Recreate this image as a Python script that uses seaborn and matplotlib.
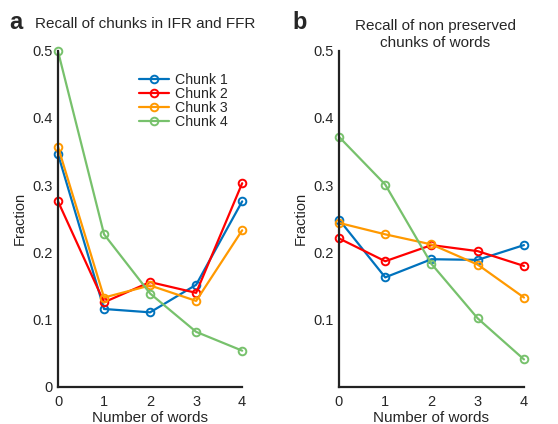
import numpy as np
import pandas as pd
import seaborn as sns
import matplotlib.pyplot as plt

words = [0, 1, 2, 3, 4]
chunks = ['Chunk 1', 'Chunk 2', 'Chunk 3', 'Chunk 4']
colors = ['#0072BD', '#FF0000', '#FF9900', '#77C16C']

# panel a: recall of chunks in IFR and FFR
a_chunk1 = [0.346, 0.116, 0.111, 0.152, 0.276]
a_chunk2 = [0.276, 0.126, 0.156, 0.140, 0.303]
a_chunk3 = [0.357, 0.133, 0.151, 0.128, 0.233]
a_chunk4 = [0.499, 0.227, 0.139, 0.082, 0.054]

# panel b: recall of non preserved chunks of words
b_chunk1 = [0.249, 0.163, 0.190, 0.189, 0.211]
b_chunk2 = [0.221, 0.187, 0.211, 0.202, 0.180]
b_chunk3 = [0.244, 0.227, 0.212, 0.182, 0.133]
b_chunk4 = [0.372, 0.301, 0.183, 0.102, 0.041]


def to_df(series):
    rows = []
    for name, vals in zip(chunks, series):
        for w, v in zip(words, vals):
            rows.append({'words': w, 'fraction': v, 'chunk': name})
    return pd.DataFrame(rows)


df_a = to_df([a_chunk1, a_chunk2, a_chunk3, a_chunk4])
df_b = to_df([b_chunk1, b_chunk2, b_chunk3, b_chunk4])

sns.set_style('white')
plt.rcParams['font.family'] = ['Liberation Sans', 'DejaVu Sans']
plt.rcParams['font.size'] = 9

fig = plt.figure(figsize=(5.58, 4.24), dpi=100)
ax_a = fig.add_axes([0.104, 0.0873, 0.330, 0.793])
ax_b = fig.add_axes([0.6075, 0.0873, 0.3315, 0.793])

palette = dict(zip(chunks, colors))
for ax, df in [(ax_a, df_a), (ax_b, df_b)]:
    sns.lineplot(data=df, x='words', y='fraction', hue='chunk', palette=palette,
                 marker='o', markersize=5.5, linewidth=1.6, ax=ax,
                 legend=(ax is ax_a))
    ax.set_xlim(0, 4)
    ax.set_ylim(0, 0.5)
    ax.set_xticks(words)
    ax.set_xlabel('Number of words', fontsize=11, labelpad=1)
    ax.set_ylabel('Fraction', fontsize=10.5, labelpad=4)
    for s in ['top', 'right']:
        ax.spines[s].set_visible(False)
    for s in ['left', 'bottom']:
        ax.spines[s].set_linewidth(1.6)
        ax.spines[s].set_color('#222222')
    ax.tick_params(direction='in', length=3, width=1.2, labelsize=10.5)
    ax.tick_params(axis='x', pad=6)
    ax.tick_params(axis='y', pad=4)
    for ln in ax.lines:
        ln.set_clip_on(False)
        ln.set_markerfacecolor('none')
        ln.set_markeredgecolor(ln.get_color())
        ln.set_markeredgewidth(1.4)

ax_a.set_yticks([0, 0.1, 0.2, 0.3, 0.4, 0.5])
ax_a.set_yticklabels(['0', '0.1', '0.2', '0.3', '0.4', '0.5'])
ax_b.set_yticks([0.1, 0.2, 0.3, 0.4, 0.5])
ax_b.set_yticklabels(['0.1', '0.2', '0.3', '0.4', '0.5'])

handles, labels = ax_a.get_legend_handles_labels()
for h in handles:
    h.set_markerfacecolor('none')
    h.set_markeredgecolor(h.get_color())
    h.set_markeredgewidth(1.4)
    h.set_linewidth(1.6)
leg = ax_a.legend(handles, labels, loc='upper left', bbox_to_anchor=(0.40, 0.955),
                  frameon=False, fontsize=10.2, handlelength=2.1,
                  handletextpad=0.45, labelspacing=0.0, borderpad=0)

fig.text(0.017, 0.932, 'a', fontsize=17, fontweight='bold')
fig.text(0.063, 0.934, 'Recall of chunks in IFR and FFR', fontsize=11)
fig.text(0.525, 0.932, 'b', fontsize=17, fontweight='bold')
fig.text(0.78, 0.89, 'Recall of non preserved\nchunks of words', fontsize=11,
         ha='center', linespacing=1.25)

fig.savefig('out.png', dpi=100)
